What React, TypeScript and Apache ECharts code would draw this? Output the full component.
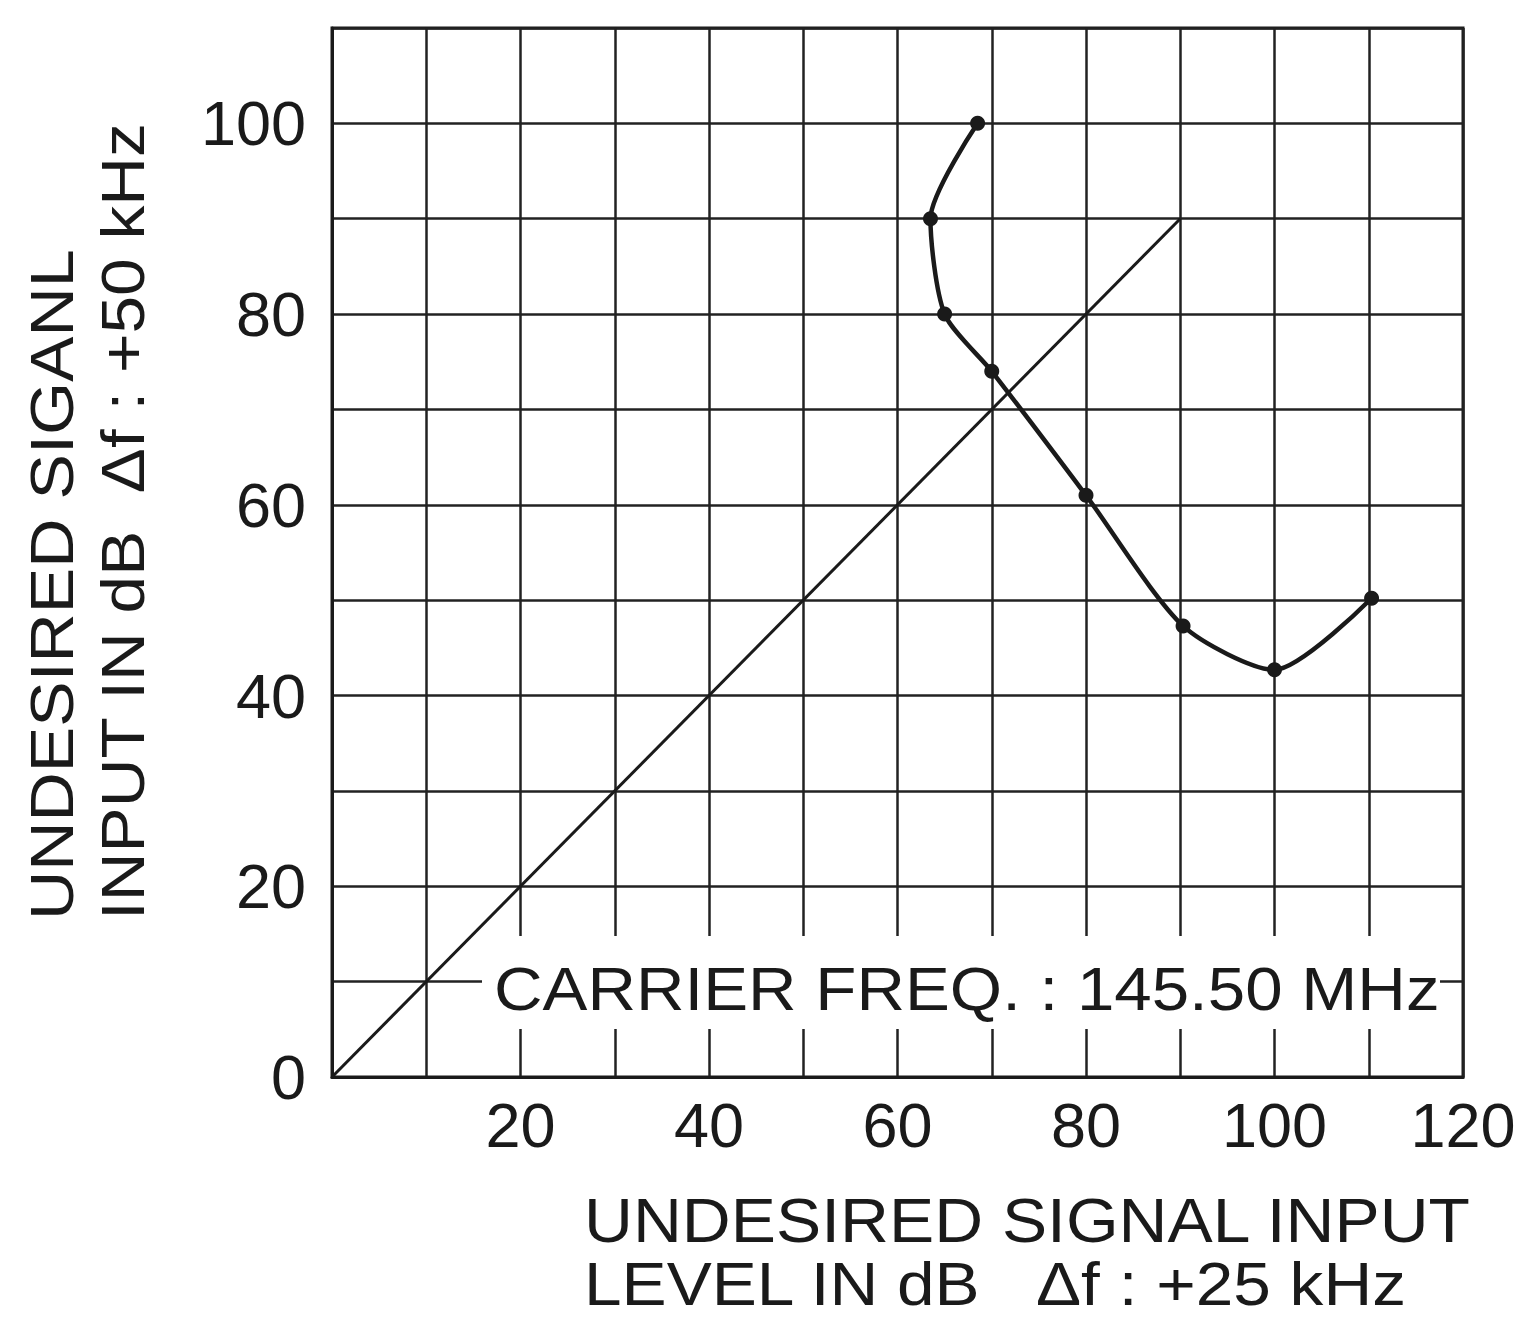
import React, { useEffect, useRef } from "react";
import * as echarts from "echarts";

const curveX = [68.5, 63.5, 65, 70, 80, 90.3, 100, 110.3];
const curveY = [100, 90, 80, 74, 61, 47.3, 42.7, 50.2];
const diagX = [0, 90];
const diagY = [0, 90];

const yNameLines = ["UNDESIRED SIGANL", "INPUT IN dB  \u0394f : +50 kHz"];
const xNameLines = ["UNDESIRED SIGNAL INPUT", "LEVEL IN dB   \u0394f : +25 kHz"];
const noteText = "CARRIER FREQ. : 145.50 MHz";

const FONT = '"Liberation Sans", Arial, Helvetica, sans-serif';
const INK = "#1a1a1a";

export default function App() {
  const ref = useRef<HTMLDivElement>(null);
  useEffect(() => {
    if (!ref.current) return;
    const chart = echarts.init(ref.current, null, { renderer: "svg" });
    const txt = (text: string, size: number) => ({
      text,
      fill: INK,
      fontSize: size,
      fontFamily: FONT,
      lineHeight: size,
      align: "left",
      verticalAlign: "middle",
    });
    const option: any = {
      animation: false,
      backgroundColor: "#ffffff",
      grid: {
        left: 332,
        top: 28,
        width: 1131,
        height: 1049,
        show: true,
        borderColor: INK,
        borderWidth: 3,
        backgroundColor: "transparent",
      },
      xAxis: {
        type: "value",
        min: 0,
        max: 120,
        interval: 10,
        axisLine: { show: true, lineStyle: { color: INK, width: 3 } },
        axisTick: { show: false },
        splitLine: { show: true, lineStyle: { color: "#222222", width: 2.5 } },
        axisLabel: {
          margin: 16,
          color: INK,
          fontSize: 63,
          fontFamily: FONT,
          formatter: (v: number) => (v > 0 && v % 20 === 0 ? String(v) : ""),
        },
      },
      yAxis: {
        type: "value",
        min: 0,
        max: 110,
        interval: 10,
        axisLine: { show: true, lineStyle: { color: INK, width: 3 } },
        axisTick: { show: false },
        splitLine: { show: true, lineStyle: { color: "#222222", width: 2.5 } },
        axisLabel: {
          margin: 26,
          color: INK,
          fontSize: 63,
          fontFamily: FONT,
          formatter: (v: number) => (v <= 100 && v % 20 === 0 ? String(v) : ""),
        },
      },
      series: [
        {
          type: "line",
          data: diagX.map((x, i) => [x, diagY[i]]),
          showSymbol: false,
          lineStyle: { color: INK, width: 3 },
          z: 3,
        },
        {
          type: "line",
          data: curveX.map((x, i) => [x, curveY[i]]),
          smooth: 0.25,
          symbol: "circle",
          symbolSize: 15,
          itemStyle: { color: INK },
          lineStyle: { color: INK, width: 4.5 },
          z: 4,
        },
      ],
      graphic: [
        {
          type: "rect",
          z: 100,
          shape: { x: 482, y: 936, width: 958, height: 93 },
          style: { fill: "#ffffff" },
        },
        {
          type: "text",
          z: 101,
          x: 494,
          y: 988,
          scaleX: 1.085,
          style: txt(noteText, 62),
        },
        {
          type: "text",
          z: 101,
          x: 52,
          y: 920,
          rotation: Math.PI / 2,
          scaleX: 1.1,
          style: txt(yNameLines[0], 62),
        },
        {
          type: "text",
          z: 101,
          x: 122,
          y: 920,
          rotation: Math.PI / 2,
          scaleX: 1.09,
          style: txt(yNameLines[1], 62),
        },
        {
          type: "text",
          z: 101,
          x: 584,
          y: 1221,
          scaleX: 1.093,
          style: txt(xNameLines[0], 62),
        },
        {
          type: "text",
          z: 101,
          x: 584,
          y: 1283,
          scaleX: 1.09,
          style: txt(xNameLines[1], 62),
        },
      ],
    };
    chart.setOption(option);
    return () => chart.dispose();
  }, []);
  return (
    <div
      ref={ref}
      style={{ position: "absolute", left: 0, top: 0, width: 1524, height: 1320 }}
    />
  );
}
